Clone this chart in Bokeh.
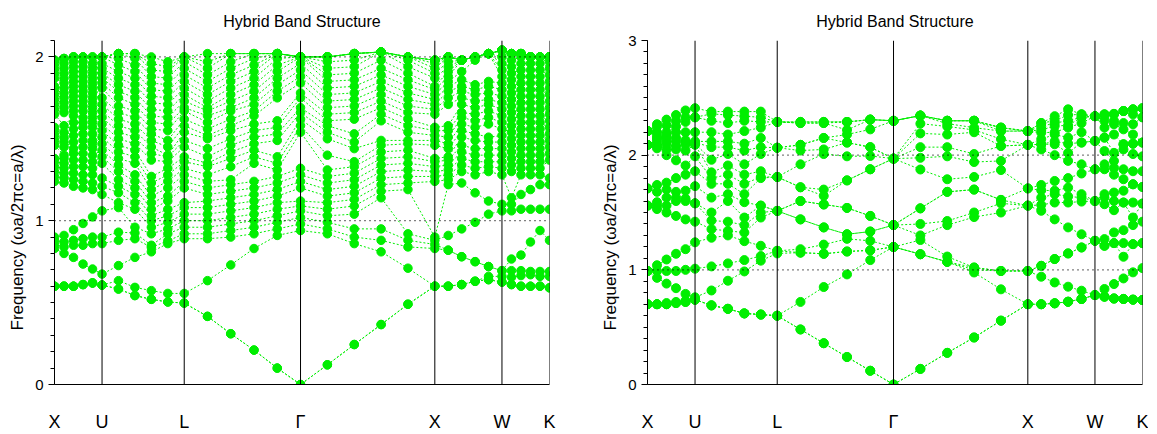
import numpy as np
from bokeh.plotting import figure
from bokeh.layouts import row
from bokeh.models import Range1d, FixedTicker, Span, Title
from bokeh.embed import file_html
from bokeh.resources import INLINE

title_text = "Hybrid Band Structure"
y_label = "Frequency (ωa/2πc=a/λ)"
k_labels = ["X", "U", "L", "Γ", "X", "W", "K"]
seg_lengths = [0.354, 0.612, 0.866, 1.0, 0.5, 0.354]   # X-U, U-L, L-Γ, Γ-X, X-W, W-K (2π/a)
steps_per_segment = 5

# ---------- left panel: eigen-frequencies at each of the 31 k-points ----------
left_freqs = [
    [0.60,0.60,0.60,0.83,0.855,0.88,0.90,1.24,1.27,1.30,1.33,1.36,1.38,1.46,1.49,1.52,1.55,1.57,1.65,1.68,1.71,1.74,1.77,1.80,1.82,1.87,1.90,1.93,1.96,1.98],
    [0.60,0.60,0.60,0.80,0.84,0.87,0.91,1.23,1.26,1.29,1.32,1.35,1.38,1.40,1.45,1.48,1.51,1.54,1.58,1.66,1.69,1.72,1.75,1.78,1.81,1.84,1.87,1.90,1.93,1.96,1.99],
    [0.60,0.60,0.60,0.776,0.85,0.88,0.945,1.21,1.25,1.29,1.33,1.37,1.41,1.44,1.48,1.52,1.56,1.60,1.64,1.67,1.70,1.73,1.76,1.79,1.82,1.85,1.88,1.91,1.94,1.97,2.0],
    [0.61,0.61,0.61,0.735,0.85,0.89,0.983,1.20,1.24,1.28,1.33,1.37,1.41,1.45,1.49,1.53,1.57,1.60,1.63,1.67,1.70,1.73,1.76,1.79,1.82,1.85,1.88,1.91,1.94,1.97,2.0],
    [0.62,0.62,0.62,0.705,0.86,0.90,1.023,1.19,1.23,1.28,1.32,1.36,1.40,1.44,1.47,1.49,1.53,1.57,1.60,1.63,1.66,1.69,1.72,1.75,1.78,1.81,1.84,1.87,1.90,1.93,1.96,2.0],
    [0.607,0.607,0.607,0.674,0.86,0.90,1.06,1.16,1.21,1.26,1.35,1.39,1.43,1.47,1.51,1.55,1.59,1.63,1.67,1.71,1.75,1.81,1.84,1.87,1.90,1.93,1.96,2.0],
    [0.583,0.583,0.634,0.726,0.88,0.93,1.08,1.11,1.17,1.21,1.25,1.30,1.34,1.38,1.42,1.46,1.50,1.54,1.58,1.62,1.66,1.70,1.75,1.79,1.83,1.87,1.91,1.95,1.99,2.02],
    [0.543,0.543,0.593,0.776,0.89,0.925,0.96,1.07,1.11,1.16,1.20,1.24,1.28,1.35,1.39,1.43,1.47,1.51,1.55,1.59,1.63,1.67,1.71,1.75,1.79,1.83,1.87,1.91,1.95,1.99,2.02],
    [0.52,0.52,0.573,0.81,0.837,0.85,0.92,0.96,1.0,1.03,1.07,1.11,1.15,1.19,1.23,1.27,1.37,1.41,1.45,1.49,1.53,1.56,1.60,1.64,1.68,1.72,1.76,1.80,1.84,1.88,1.92,1.96,2.0],
    [0.504,0.504,0.556,0.86,0.877,0.92,0.95,0.99,1.03,1.07,1.12,1.15,1.20,1.24,1.28,1.32,1.36,1.39,1.40,1.45,1.49,1.55,1.59,1.63,1.67,1.71,1.75,1.79,1.83,1.87,1.91,1.94,1.97],
    [0.497,0.497,0.556,0.89,0.92,0.96,1.0,1.04,1.08,1.11,1.20,1.24,1.28,1.32,1.36,1.39,1.45,1.49,1.54,1.58,1.62,1.67,1.69,1.73,1.77,1.81,1.85,1.89,1.93,1.97,2.0],
    [0.416,0.416,0.634,0.89,0.92,0.96,1.0,1.04,1.08,1.12,1.16,1.20,1.24,1.28,1.33,1.35,1.39,1.44,1.50,1.52,1.56,1.60,1.64,1.67,1.69,1.73,1.77,1.81,1.85,1.89,1.93,1.97,2.02],
    [0.31,0.31,0.73,0.90,0.94,0.98,1.02,1.06,1.10,1.14,1.18,1.22,1.25,1.33,1.38,1.42,1.46,1.50,1.55,1.58,1.62,1.67,1.69,1.73,1.77,1.81,1.85,1.89,1.93,1.97,2.02],
    [0.21,0.21,0.83,0.92,0.96,1.0,1.04,1.08,1.12,1.16,1.20,1.24,1.35,1.39,1.43,1.47,1.51,1.55,1.59,1.64,1.67,1.71,1.75,1.79,1.83,1.87,1.91,1.95,1.99,2.02],
    [0.10,0.10,0.91,0.95,0.99,1.03,1.07,1.11,1.15,1.19,1.23,1.27,1.31,1.35,1.39,1.49,1.53,1.57,1.61,1.75,1.79,1.83,1.87,1.91,1.95,1.99,2.02],
    [0.0,0.0,0.94,0.98,1.02,1.06,1.09,1.12,1.20,1.24,1.28,1.32,1.54,1.58,1.62,1.66,1.69,1.75,1.78,1.84,1.88,1.92,1.96,2.0],
    [0.12,0.12,0.92,0.95,0.99,1.03,1.07,1.11,1.15,1.19,1.23,1.27,1.31,1.40,1.50,1.54,1.58,1.61,1.65,1.69,1.73,1.77,1.81,1.85,1.89,1.93,1.97,2.0],
    [0.244,0.244,0.86,0.90,0.95,1.04,1.09,1.13,1.17,1.21,1.25,1.29,1.33,1.36,1.44,1.48,1.53,1.62,1.66,1.70,1.74,1.78,1.82,1.86,1.90,1.94,1.98,2.02],
    [0.366,0.366,0.81,0.88,0.95,1.14,1.18,1.22,1.26,1.30,1.34,1.38,1.42,1.46,1.49,1.61,1.65,1.69,1.73,1.77,1.81,1.85,1.89,1.93,1.98,2.03],
    [0.49,0.49,0.71,0.84,0.88,0.92,1.19,1.23,1.27,1.31,1.35,1.39,1.43,1.47,1.49,1.54,1.58,1.62,1.66,1.70,1.74,1.78,1.82,1.86,1.90,1.94,1.98,2.0],
    [0.60,0.60,0.60,0.83,0.855,0.88,0.90,1.24,1.27,1.30,1.33,1.36,1.38,1.46,1.49,1.52,1.55,1.57,1.65,1.68,1.71,1.74,1.77,1.80,1.82,1.87,1.90,1.93,1.96,1.98],
    [0.60,0.60,0.60,0.82,0.82,0.91,1.22,1.25,1.28,1.31,1.34,1.37,1.39,1.44,1.47,1.51,1.55,1.58,1.71,1.75,1.79,1.82,1.85,1.88,1.91,1.94,1.97,2.0],
    [0.61,0.61,0.61,0.78,0.78,0.95,1.23,1.30,1.34,1.38,1.42,1.46,1.51,1.55,1.59,1.63,1.66,1.71,1.75,1.79,1.82,1.86,1.91,1.98],
    [0.63,0.63,0.63,0.75,0.75,0.99,1.17,1.28,1.32,1.36,1.40,1.44,1.49,1.53,1.57,1.61,1.65,1.69,1.73,1.77,1.80,1.83,1.98,2.0],
    [0.64,0.64,0.66,0.72,0.72,1.04,1.12,1.30,1.33,1.36,1.40,1.44,1.48,1.51,1.59,1.63,1.67,1.71,1.74,1.78,1.82,1.85,2.02],
    [0.625,0.625,0.66,0.695,0.695,1.06,1.10,1.28,1.32,1.36,1.40,1.44,1.48,1.52,1.56,1.60,1.64,1.68,1.72,1.76,1.80,1.84,1.88,1.92,1.96,2.0,2.04],
    [0.61,0.61,0.655,0.695,0.766,1.06,1.10,1.14,1.30,1.34,1.38,1.42,1.46,1.50,1.54,1.58,1.62,1.66,1.70,1.74,1.78,1.82,1.86,1.90,1.94,1.98,2.02],
    [0.60,0.60,0.665,0.695,0.79,1.07,1.16,1.28,1.32,1.36,1.40,1.44,1.48,1.52,1.56,1.60,1.64,1.68,1.72,1.76,1.80,1.84,1.88,1.92,1.96,2.0,2.02],
    [0.60,0.60,0.67,0.69,0.87,1.07,1.19,1.28,1.32,1.36,1.40,1.44,1.48,1.52,1.56,1.60,1.64,1.68,1.72,1.76,1.80,1.84,1.88,1.92,1.96,2.0],
    [0.60,0.60,0.66,0.69,0.94,1.07,1.22,1.28,1.32,1.36,1.40,1.44,1.48,1.52,1.56,1.60,1.64,1.68,1.72,1.76,1.80,1.84,1.88,1.92,1.96,2.0],
    [0.59,0.59,0.66,0.69,0.88,1.07,1.22,1.26,1.37,1.41,1.45,1.49,1.53,1.57,1.61,1.65,1.69,1.73,1.77,1.81,1.85,1.89,1.93,1.97,2.0],
]

# ---------- right panel ----------
right_freqs = [
    [0.70,0.70,0.70,0.99,0.99,0.99,1.56,1.56,1.56,1.71,1.71,2.09,2.09,2.09,2.09,2.21,2.21,2.21,2.21,2.21],
    [0.70,0.70,0.70,0.93,0.99,1.04,1.53,1.56,1.59,1.68,1.74,2.06,2.08,2.10,2.13,2.15,2.17,2.20,2.25,2.27],
    [0.70,0.70,0.71,0.88,0.99,1.09,1.50,1.56,1.63,1.70,1.76,2.00,2.05,2.09,2.12,2.15,2.17,2.20,2.26,2.31],
    [0.71,0.71,0.72,0.84,0.99,1.14,1.47,1.60,1.63,1.68,1.80,1.955,2.05,2.08,2.12,2.15,2.20,2.25,2.30,2.35],
    [0.72,0.72,0.73,0.79,1.00,1.18,1.44,1.60,1.62,1.69,1.83,1.91,2.04,2.09,2.11,2.13,2.20,2.29,2.33,2.39],
    [0.74,0.74,0.74,0.76,1.01,1.24,1.42,1.58,1.58,1.73,1.86,1.99,2.09,2.10,2.11,2.12,2.20,2.33,2.33,2.41],
    [0.69,0.69,0.69,0.82,1.03,1.28,1.355,1.43,1.50,1.63,1.75,1.80,1.85,1.96,2.07,2.12,2.20,2.30,2.36,2.38],
    [0.66,0.66,0.66,0.905,1.056,1.30,1.34,1.42,1.60,1.66,1.75,1.83,1.91,2.01,2.07,2.12,2.18,2.28,2.35,2.38],
    [0.62,0.62,0.62,0.986,1.085,1.25,1.325,1.39,1.456,1.59,1.66,1.75,1.83,1.92,2.04,2.10,2.21,2.30,2.34,2.38],
    [0.61,0.61,0.61,1.08,1.12,1.21,1.456,1.50,1.56,1.56,1.80,1.81,1.86,2.01,2.07,2.15,2.24,2.29,2.33,2.38],
    [0.60,0.60,0.60,1.143,1.166,1.166,1.514,1.514,1.514,1.514,1.81,1.81,1.81,2.065,2.065,2.065,2.29,2.29,2.29,2.29],
    [0.48,0.48,0.72,1.15,1.15,1.18,1.44,1.44,1.60,1.60,1.72,1.72,1.92,2.04,2.09,2.09,2.28,2.28,2.29,2.29],
    [0.36,0.36,0.85,1.14,1.14,1.22,1.37,1.37,1.57,1.57,1.645,1.70,2.01,2.05,2.15,2.15,2.28,2.28,2.29,2.29],
    [0.24,0.24,0.96,1.16,1.16,1.27,1.31,1.31,1.54,1.54,1.78,1.78,1.99,2.11,2.11,2.18,2.22,2.29,2.29,2.29],
    [0.12,0.12,1.085,1.17,1.17,1.253,1.334,1.334,1.47,1.47,1.877,1.877,1.993,2.07,2.07,2.225,2.31,2.31,2.31,2.31],
    [0.0,0.0,1.20,1.20,1.20,1.20,1.39,1.39,1.39,1.39,1.97,1.97,1.97,1.97,1.97,2.30,2.30,2.30,2.30,2.30],
    [0.136,0.136,1.136,1.136,1.136,1.26,1.30,1.40,1.536,1.536,1.875,1.977,2.07,2.19,2.275,2.345,2.345,2.345,2.345,2.345],
    [0.276,0.276,1.07,1.07,1.07,1.116,1.39,1.426,1.68,1.68,1.79,1.99,2.07,2.18,2.25,2.275,2.30,2.30,2.30,2.30],
    [0.41,0.41,0.977,1.00,1.02,1.02,1.46,1.50,1.70,1.70,1.81,1.94,2.01,2.20,2.22,2.24,2.30,2.30,2.30,2.30],
    [0.557,0.557,0.83,0.99,0.99,0.99,1.50,1.58,1.61,1.61,1.87,1.95,2.08,2.08,2.14,2.21,2.21,2.24,2.24,2.24],
    [0.70,0.70,0.70,0.99,0.99,0.99,1.56,1.56,1.56,1.71,1.71,2.09,2.09,2.09,2.09,2.21,2.21,2.21,2.21,2.21],
    [0.70,0.70,0.70,0.94,1.035,1.035,1.515,1.566,1.63,1.694,1.74,2.05,2.095,2.095,2.14,2.196,2.22,2.25,2.28,2.28],
    [0.708,0.708,0.708,0.89,1.094,1.094,1.44,1.587,1.66,1.69,1.775,2.00,2.095,2.12,2.18,2.20,2.254,2.28,2.30,2.34],
    [0.722,0.722,0.722,0.853,1.143,1.143,1.37,1.587,1.64,1.717,1.80,1.95,2.02,2.10,2.153,2.24,2.26,2.30,2.35,2.40],
    [0.746,0.746,0.746,0.818,1.195,1.195,1.31,1.595,1.63,1.66,1.84,1.92,2.11,2.11,2.20,2.28,2.33,2.33,2.356,2.356],
    [0.78,0.78,0.78,0.78,1.253,1.253,1.253,1.60,1.60,1.60,1.877,1.877,2.124,2.124,2.124,2.34,2.34,2.34,2.34,2.34],
    [0.766,0.766,0.766,0.833,1.21,1.21,1.268,1.572,1.63,1.66,1.877,1.92,2.036,2.153,2.153,2.24,2.30,2.34,2.356,2.356],
    [0.75,0.75,0.75,0.876,1.233,1.233,1.326,1.52,1.60,1.674,1.83,1.89,1.95,2.02,2.18,2.27,2.30,2.356,2.36,2.36],
    [0.746,0.746,0.746,0.925,1.114,1.233,1.346,1.587,1.587,1.69,1.79,1.877,2.05,2.095,2.095,2.225,2.28,2.385,2.385,2.385],
    [0.74,0.74,0.74,0.978,1.224,1.224,1.39,1.456,1.587,1.746,1.746,1.86,2.01,2.10,2.10,2.18,2.27,2.356,2.40,2.40],
    [0.737,0.737,0.737,1.015,1.233,1.233,1.42,1.578,1.578,1.723,1.723,1.86,1.99,2.11,2.11,2.11,2.33,2.33,2.41,2.41],
]

GREEN = "#00ee00"
FONT = "Liberation Sans"


def k_path():
    xs = [0.0]
    ticks = [0.0]
    pos = 0.0
    for L in seg_lengths:
        for i in range(1, steps_per_segment + 1):
            xs.append(pos + L * i / steps_per_segment)
        pos += L
        ticks.append(pos)
    return xs, ticks


def bands_from(columns):
    n = max(len(c) for c in columns)
    cols = []
    for c in columns:
        c = sorted(c)
        c = c + [c[-1]] * (n - len(c))
        cols.append(c)
    return [[col[b] for col in cols] for b in range(n)]


def make_panel(columns, ymax, yticks, dot_size, border_left, border_right):
    kx, kticks = k_path()
    p = figure(frame_width=495, frame_height=344, output_backend="svg",
               toolbar_location=None, title=title_text,
               x_range=Range1d(0, kticks[-1]), y_range=Range1d(0, ymax),
               min_border_left=border_left, min_border_right=border_right,
               min_border_top=40, min_border_bottom=42)
    p.outline_line_color = None
    p.xgrid.visible = False
    p.ygrid.visible = False
    p.background_fill_color = "white"
    p.border_fill_color = "white"

    p.title.align = "center"
    p.title.text_font = FONT
    p.title.text_font_size = "16px"
    p.title.text_font_style = "normal"
    p.title.text_color = "#000000"
    p.title.standoff = 21

    # x axis: high symmetry labels
    p.xaxis.ticker = FixedTicker(ticks=kticks)
    p.xaxis.major_label_overrides = {t: lab for t, lab in zip(kticks, k_labels)}
    p.xaxis.major_tick_line_color = None
    p.xaxis.minor_tick_line_color = None
    p.xaxis.major_label_standoff = 21
    p.xaxis.major_label_text_font = FONT
    p.xaxis.major_label_text_font_size = "18px"
    p.xaxis.major_label_text_color = "#000000"
    p.xaxis.axis_line_color = "#000000"

    # y axis
    minor = [round(0.1 * i, 2) for i in range(int(ymax * 10) + 1)]
    p.yaxis.ticker = FixedTicker(ticks=yticks, minor_ticks=minor)
    p.yaxis.major_tick_out = 6
    p.yaxis.major_tick_in = 0
    p.yaxis.minor_tick_out = 4
    p.yaxis.minor_tick_in = 0
    p.yaxis.major_tick_line_color = "#000000"
    p.yaxis.minor_tick_line_color = "#000000"
    p.yaxis.axis_line_color = "#000000"
    p.yaxis.major_label_text_font = FONT
    p.yaxis.major_label_text_font_size = "15px"
    p.yaxis.major_label_text_color = "#000000"
    p.yaxis.major_label_standoff = 5

    # y axis title as a side title, placed below the frame centre like the reference
    p.add_layout(Title(text=y_label, align="left", offset=54, standoff=11,
                       text_font=FONT, text_font_size="17px",
                       text_font_style="normal", text_color="#000000"), "left")

    # reference lines
    for yv in (1, 2):
        p.add_layout(Span(location=yv, dimension="width", line_color="#000000",
                          line_dash="1 4", line_width=1.2))
    for t in kticks:
        p.add_layout(Span(location=t, dimension="height", line_color="#000000",
                          line_width=1))

    bands = bands_from(columns)
    p.multi_line(xs=[kx] * len(bands), ys=bands, line_color=GREEN,
                 line_width=1, line_dash="2 2")
    allx = [x for b in bands for x in kx]
    ally = [y for b in bands for y in b]
    p.scatter(allx, ally, size=dot_size, color=GREEN, line_color=GREEN)
    return p


p1 = make_panel(left_freqs, 2.1, [0, 1, 2], 8.5, 54, 44)
p2 = make_panel(right_freqs, 3.0, [0, 1, 2, 3], 9, 54, 6)
layout = row(p1, p2)

open("out.html", "w").write(file_html(layout, INLINE))
